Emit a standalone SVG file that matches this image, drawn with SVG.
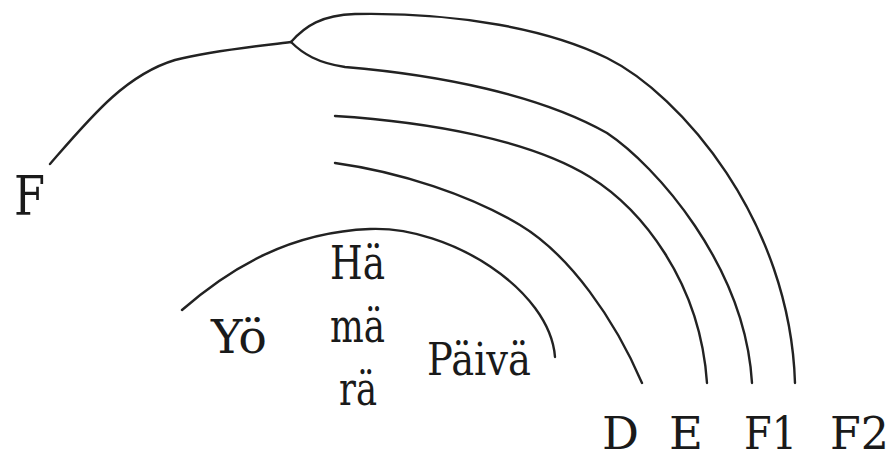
<svg xmlns="http://www.w3.org/2000/svg" width="892" height="460" viewBox="0 0 892 460">
<style>
.ln{fill:none;stroke:#222;stroke-width:2.4;stroke-linecap:round}
.t{font-family:"DejaVu Serif",serif;fill:#1a1a1a}
.big{font-size:45px}
.lab{font-size:46px}
</style>
<rect width="892" height="460" fill="#fff"/>
<g id="connectors">
<path class="ln" d="M50,164 C90,118 125,75 175,60 C215,50 260,46 291,42"/>
<path class="ln" d="M291,42 C305,26 322,15 355,14 C460,12 550,30 607,58 C680,94 790,220 795,383"/>
<path class="ln" d="M291,42 C303,54 318,63 345,67 C440,75 540,95 607,133 C655,165 745,265 752,383"/>
<path class="ln" d="M335,116 C430,122 530,140 590,177 C640,208 700,280 707,383"/>
<path class="ln" d="M335,163 C400,172 470,195 520,225 C570,255 615,320 642,383"/>
<path class="ln" d="M182,310 C230,268 290,232 370,229 C450,226 550,290 555,357"/>
</g>
<g id="label-F"><text class="t" x="14" y="215" font-size="55" textLength="31" lengthAdjust="spacingAndGlyphs">F</text></g>
<g id="label-D"><text class="t big" x="602" y="449" textLength="37" lengthAdjust="spacingAndGlyphs">D</text></g>
<g id="label-E"><text class="t big" x="669" y="449" textLength="34" lengthAdjust="spacingAndGlyphs">E</text></g>
<g id="label-F1"><text class="t big" x="744" y="449" textLength="53" lengthAdjust="spacingAndGlyphs">F1</text></g>
<g id="label-F2"><text class="t big" x="830" y="449" textLength="59" lengthAdjust="spacingAndGlyphs">F2</text></g>
<g id="label-Yo"><text class="t lab" x="211" y="353" textLength="56" lengthAdjust="spacingAndGlyphs">Yö</text></g>
<g id="label-Hamara">
<text class="t lab" x="330" y="279" textLength="55" lengthAdjust="spacingAndGlyphs">Hä</text>
<text class="t lab" x="330" y="342" textLength="55" lengthAdjust="spacingAndGlyphs">mä</text>
<text class="t lab" x="339" y="405" textLength="38" lengthAdjust="spacingAndGlyphs">rä</text>
</g>
<g id="label-Paiva"><text class="t" x="427" y="375" font-size="44" textLength="104" lengthAdjust="spacingAndGlyphs">Päivä</text></g>
</svg>
